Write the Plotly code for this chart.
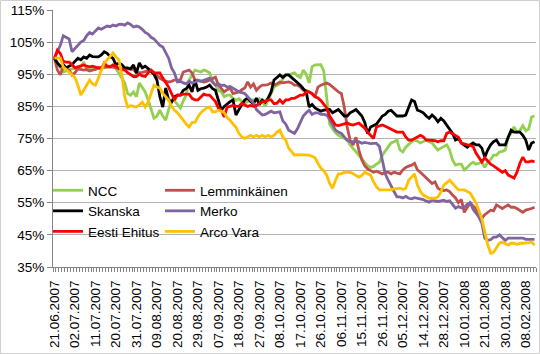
import pandas as pd
import plotly.graph_objects as go

# ---- trading-day categories ----
START, END = "2007-06-21", "2008-02-13"
HOLIDAYS = ["2007-12-24", "2007-12-25", "2007-12-26", "2007-12-31", "2008-01-01"]
dates = [d.strftime("%d.%m.%Y") for d in pd.bdate_range(START, END)
         if d.strftime("%Y-%m-%d") not in HOLIDAYS]

TICK_LABELS = ["21.06.2007", "02.07.2007", "11.07.2007", "20.07.2007", "31.07.2007",
               "09.08.2007", "20.08.2007", "29.08.2007", "07.09.2007", "18.09.2007",
               "27.09.2007", "08.10.2007", "17.10.2007", "26.10.2007", "06.11.2007",
               "15.11.2007", "26.11.2007", "05.12.2007", "14.12.2007", "28.12.2007",
               "10.01.2008", "21.01.2008", "30.01.2008", "08.02.2008"]

# ---- series values (% of start) ----
ncc = [100, 98.5, 97.3, 95.7, 96, 96.3, 96.8, 97, 96.5, 97.2,
       98.8, 96.3, 96.8, 97, 96.5, 97, 97.2, 97, 97.5, 97.5,
       97.5, 96.8, 95.3, 94, 92.3, 89, 88.5, 89.5, 88, 92.3,
       91, 89.5, 87, 83.8, 81.3, 82, 83.8, 82, 80.7, 84,
       87, 86.7, 85.5, 84.5, 86.7, 88.5, 93.2, 95, 96.3, 96,
       95.7, 96.3, 96, 95.4, 93, 91.6, 90, 89.5, 88, 88.5,
       88.5, 87.5, 86.9, 87.4, 86.5, 86, 86.5, 87, 87, 87,
       87.4, 86.5, 85, 87, 89, 91, 91.6, 92, 93.5, 94.8,
       94.8, 95, 95.4, 94.5, 94, 96.3, 95, 92.3, 97.3, 97.9,
       98, 98, 96, 87, 79.5, 78, 76.8, 76, 75.5, 75,
       74.5, 73, 72, 71, 69.8, 68.7, 67.5, 66.5, 66, 66.3,
       67, 67.6, 69.8, 71, 72.5, 73.6, 74, 74.5, 71.5, 70.8,
       72.3, 73.2, 74, 74.5, 74.2, 73.6, 74, 74.5, 74, 73.6,
       72.5, 71.4, 72, 72.5, 73, 71.4, 68.3, 66.7, 67, 67,
       65.2, 66, 67, 67.6, 67, 67.3, 67.6, 66, 67.6, 68.5,
       69.8, 69.8, 70.8, 71, 71.4, 75.4, 76.6, 78.6, 77, 77.5,
       79, 77.4, 78, 81.7, 82]

lemminkainen = [100, 96.3, 94.8, 97.3, 96.8, 96.3, 94.8, 95.5, 96.7, 96.5,
                96.3, 96.5, 96, 96.3, 96.5, 97, 97, 97.2, 97.3, 97.3,
                97.2, 97, 97, 96.8, 96.7, 96.7, 96.5, 96.5, 95.4, 95.4,
                95.6, 95.8, 96.3, 96.3, 95.4, 94.5, 93.8, 93.2, 93, 92.6,
                92.8, 93.2, 93.2, 93.2, 95.7, 96, 96.3, 95.4, 93.2, 93.2,
                93, 92.6, 92.8, 93.2, 93.6, 94.1, 91.6, 90.5, 89.5, 90.2,
                90.7, 89, 89.3, 89.5, 90.2, 90.7, 92.6, 91, 92, 90,
                91, 91.6, 91.6, 91.8, 92.3, 91.6, 92, 92.6, 92.3, 92.5,
                92.6, 92.3, 91.6, 91.6, 91, 90, 90, 89.5, 89, 88,
                91, 91.6, 92, 92.3, 91.8, 91, 90, 89.5, 89, 84.8,
                78.6, 74.5, 73, 75.4, 71.4, 68.3, 66.5, 65.5, 65, 64.5,
                64.8, 64.5, 64, 64.5, 64.5, 64, 64.5, 64.2, 64, 65.2,
                66, 66.4, 66.7, 67.3, 65.2, 64.5, 63.6, 62.8, 62, 61,
                61.5, 59.5, 59, 58.8, 59, 58.5, 57.4, 56.5, 55, 56,
                52, 53.5, 55, 54, 53.2, 51.5, 50.2, 51.3, 52, 52.7,
                52.5, 54.3, 53.8, 53.2, 53.8, 54.3, 53.6, 53.6, 53.2, 52.5,
                52, 52.7, 52.9, 53.2, 53.6]

skanska = [100, 98.5, 97.5, 98, 97, 97.5, 98, 99, 100, 99.5,
           100.4, 100, 101, 100.5, 100.4, 100.4, 101, 102, 101.5, 100.5,
           100, 97.9, 98.5, 98, 97, 97, 96.7, 97.9, 95.4, 98.5,
           97, 97.5, 96.8, 96, 95, 93.2, 88, 84.8, 90.7, 87,
           86.3, 88, 88.5, 88.5, 90, 90.5, 91.6, 89.5, 93.2, 90,
           90.5, 90.7, 91, 91.6, 90.5, 90, 87, 83.8, 85, 85.8,
           86.5, 87, 82.3, 84, 85.7, 87, 87.6, 86.5, 85.8, 87.6,
           85.5, 87, 86.3, 87.6, 89.5, 93.2, 94, 94.8, 94, 94.8,
           94.8, 94, 93.2, 92.5, 91.6, 90.5, 89.5, 84.8, 85.6, 84.5,
           84, 83.5, 83.8, 84, 84, 83, 83.5, 84, 83, 82,
           82, 83, 83.5, 84, 83, 82, 80, 76.5, 78.6, 79,
           79.5, 80.7, 82, 82.5, 83.5, 83.8, 83, 82, 82, 82,
           82.3, 84.8, 87, 86.5, 83.8, 83.5, 83, 82, 81.3, 82.3,
           81.5, 80.2, 81.3, 80.5, 79.2, 77.5, 76.6, 74.5, 75, 73.6,
           73, 72.3, 73, 73.6, 73, 73, 72, 69.2, 71.4, 73,
           74, 74.5, 73, 73, 73, 75.4, 77.6, 77, 77, 77,
           76, 74.5, 71.4, 73.6, 74]

merko = [100, 102, 104, 107, 106.5, 106, 102, 103, 104, 105,
         105.5, 107, 108, 107.5, 108.5, 109.4, 109, 109.5, 110, 109.8,
         110.3, 110, 110.5, 110.6, 110.3, 111, 110.5, 109.7, 110, 109.7,
         109, 108, 107.5, 106.5, 106, 105, 104, 103.5, 101.5, 100,
         97, 95.4, 92.6, 92.8, 92.3, 92, 92.8, 92.3, 92.6, 93,
         92.8, 93.2, 93.5, 93.8, 92.5, 91.6, 92, 91.5, 91.6, 91,
         91.2, 90.7, 90, 89.6, 89.3, 89, 88, 87, 86, 84,
         83, 82.3, 82.5, 83, 83.5, 83, 83.2, 83.3, 80.5, 79.5,
         77.6, 77, 76.6, 78, 79.8, 82, 83, 83.8, 82.5, 83,
         83, 82.5, 82.5, 82.3, 81, 79.5, 77.6, 77, 76.6, 75.5,
         74.5, 74, 74, 73.8, 74, 73.5, 73.8, 73.6, 73.4, 73.5,
         73.5, 72.5, 68, 64, 62, 60, 58.5, 56.8, 56.8, 56.5,
         57, 56.4, 56.2, 56.6, 56.4, 56.4, 56, 55.5, 55.2, 55.8,
         55.6, 55.4, 55.6, 55.8, 55.4, 55.6, 54.5, 53.3, 53.8, 53.4,
         53.6, 54.5, 55, 53, 51.8, 50.5, 48.6, 44, 43.3, 43.5,
         44.3, 44.3, 45, 44, 43.3, 44, 44, 43.8, 44, 43.8,
         44, 43.6, 43.6, 43.8, 43.6]

eesti_ehitus = [100, 102.5, 101.5, 99, 98.8, 98.8, 98, 97, 97.3, 97.5,
                97.9, 97.5, 97.3, 97.5, 97.3, 97, 96.7, 98.5, 97.5, 97.3,
                97.9, 97.5, 96.7, 96.5, 96.3, 95.5, 94.8, 94.3, 94.3, 95,
                94.5, 94.3, 95.5, 96.3, 95.4, 95.4, 95.4, 93.8, 92.5, 91,
                89, 87, 88.5, 88.5, 88.8, 88.8, 88.8, 87.5, 87, 87,
                88, 88.8, 88.5, 88.5, 87.5, 86.5, 84.5, 83.8, 81.7, 84.8,
                85, 85.3, 85, 85, 86, 85.5, 85, 85.3, 85, 85.3,
                86, 86.5, 86.5, 87, 87, 85.8, 86, 87, 86, 87,
                87, 87.5, 87.5, 88, 88.5, 88.5, 89.5, 89.5, 89, 88,
                87.6, 86.8, 85.5, 84.5, 82, 80.5, 79.2, 79, 79.2, 79.5,
                79.8, 79.4, 79.2, 79.5, 79.8, 79, 78.2, 77, 76, 75,
                78.6, 79, 79.2, 78.8, 78.4, 78, 77.5, 77, 77, 77,
                75.5, 74.5, 74.5, 75, 75.5, 76, 75.5, 74.5, 74.5, 74.5,
                74.3, 74, 74.3, 74.3, 76.6, 77, 76.5, 76, 75.4, 73.6,
                73.3, 73, 72.8, 72.5, 70.5, 69, 67.7, 69, 68, 67,
                66.5, 65.8, 65, 64.5, 65, 63.6, 63.2, 62.7, 64.5, 67.3,
                69.2, 67.7, 67.7, 68, 67.7]

arco_vara = [100, 100, 100, 97.3, 96.5, 95.7, 95, 94, 91.6, 88.5,
             90, 91.6, 93.2, 92, 91.6, 93.8, 96.3, 98.5, 99.5, 100.4,
             101.6, 100.4, 99.5, 94.8, 88, 84.8, 85.2, 85, 84.8, 85.5,
             86.3, 84.8, 86.3, 89, 91.6, 91, 90.7, 89, 88, 87,
             85, 83.8, 83, 82, 80.7, 79.5, 78.6, 80, 80, 81.7,
             83, 83.8, 84.5, 84.8, 83.3, 83.3, 83.8, 83.5, 83, 81.5,
             80.7, 79.5, 78.5, 76.6, 75.5, 75, 75.5, 76, 75.5, 76,
             75.5, 76, 75.5, 76, 75.5, 76, 77, 77.6, 75.5, 74.5,
             72, 71, 69.8, 70, 70, 70, 69.8, 69.8, 69.5, 69,
             67.3, 65.8, 65, 63.6, 61, 59.5, 62, 64, 64, 64.5,
             64.5, 64.5, 64, 63.6, 63, 63.5, 64.5, 64, 63.6, 61.5,
             60, 59, 59, 58.8, 58.8, 59, 59.3, 59.5, 59.5, 59.2,
             59.5, 62, 63, 64, 60.5, 58.5, 57.4, 57, 56.4, 56.4,
             56.4, 56.8, 58.3, 60.5, 61.2, 62, 61, 60, 59, 59,
             59, 58.5, 58, 56.5, 55, 52.5, 50, 46, 42, 39.3,
             39.6, 41, 42.4, 42.8, 42.3, 41.8, 42.4, 42.4, 42, 42.4,
             42.4, 42.4, 42.6, 42.8, 41.8]

SERIES = [
    ("NCC", ncc, "#92D050", "legend"),
    ("Lemminkäinen", lemminkainen, "#C0504D", "legend2"),
    ("Skanska", skanska, "#000000", "legend"),
    ("Merko", merko, "#8064A2", "legend2"),
    ("Eesti Ehitus", eesti_ehitus, "#FF0000", "legend"),
    ("Arco Vara", arco_vara, "#FFC000", "legend2"),
]

FONT = "Liberation Sans, Arial, sans-serif"
W, H = 540, 354
ML, MR, MT, MB = 53, 4, 10, 87
PW, PH = W - ML - MR, H - MT - MB

fig = go.Figure()
for name, vals, color, leg in SERIES:
    fig.add_trace(go.Scatter(
        x=list(range(len(vals))), y=vals, name=name, mode="lines",
        line=dict(color=color, width=2.8), legend=leg,
    ))

tickvals = [dates.index(t) for t in TICK_LABELS]

def px(xp):
    return (xp - ML) / PW

def py(yp):
    return (H - MB - yp) / PH

fig.update_layout(
    width=W, height=H,
    margin=dict(l=ML, r=MR, t=MT, b=MB),
    paper_bgcolor="white", plot_bgcolor="white",
    font=dict(family=FONT, size=13, color="#000000"),
    showlegend=True,
    legend=dict(x=px(48), y=py(175), xanchor="left", yanchor="top",
                bgcolor="rgba(0,0,0,0)", font=dict(size=13.5), tracegroupgap=0,
                itemwidth=30),
    legend2=dict(x=px(160), y=py(175), xanchor="left", yanchor="top",
                 bgcolor="rgba(0,0,0,0)", font=dict(size=13.5), tracegroupgap=0,
                 itemwidth=30),
    xaxis=dict(
        range=[-0.5, len(dates) - 0.5], tickmode="array",
        tickvals=tickvals, ticktext=TICK_LABELS, tickangle=-90,
        ticks="", showgrid=False, zeroline=False,
        showline=True, linecolor="#868686", linewidth=1,
        tickfont=dict(size=13.5, family=FONT, color="#000000"),
        ticklabelstandoff=7,
        minor=dict(ticks="outside", tick0=-0.5, dtick=1, ticklen=4,
                   tickcolor="#868686", showgrid=False),
    ),
    yaxis=dict(
        range=[35, 115], dtick=10, tick0=35, ticksuffix="%",
        showgrid=True, gridcolor="#b3b3b3", gridwidth=1,
        zeroline=False, showline=True, linecolor="#868686", linewidth=1,
        ticks="outside", ticklen=5, tickcolor="#868686",
        tickfont=dict(size=13.5, family=FONT, color="#000000"),
    ),
    shapes=[
        dict(type="rect", xref="paper", yref="paper",
             x0=px(63), x1=px(290), y0=py(245), y1=py(176),
             fillcolor="white", line=dict(width=0), layer="between"),
        dict(type="rect", xref="paper", yref="paper",
             x0=px(0.5), x1=px(W - 0.5), y0=py(H - 0.5), y1=py(0.5),
             line=dict(color="#d0d0d0", width=1), fillcolor="rgba(0,0,0,0)"),
    ],
)

fig.write_html("out.html")
